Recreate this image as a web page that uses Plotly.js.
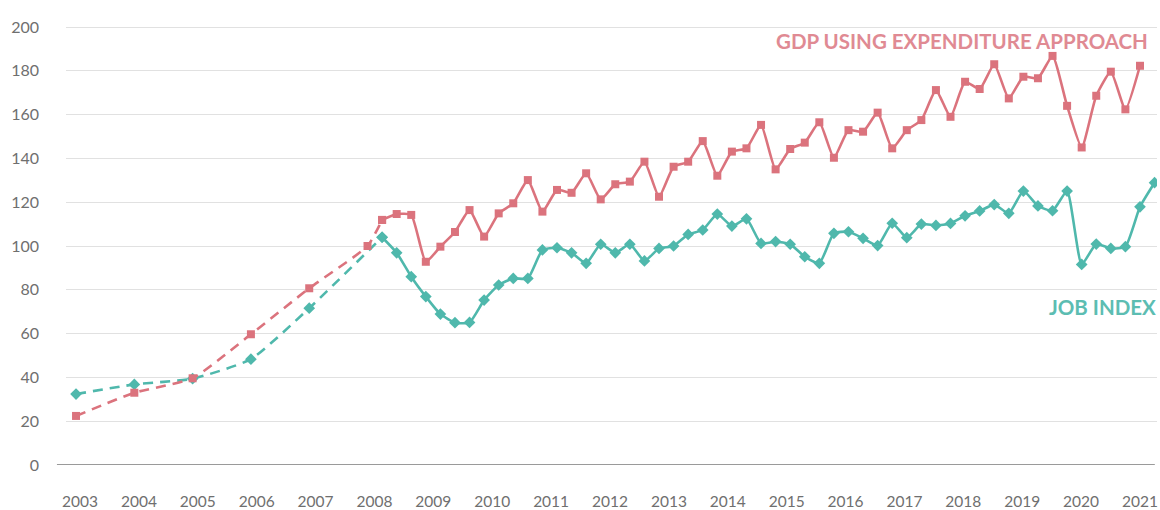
<!DOCTYPE html>
<html>
<head>
<meta charset="utf-8">
<script src="https://cdn.plot.ly/plotly-3.0.1.min.js"></script>
<style>html,body{margin:0;padding:0;background:#fff;}#chart{width:1160px;height:510px;}</style>
</head>
<body>
<div id="chart"></div>
<script>
// ---- data ----
const annualYears = [2003, 2004, 2005, 2006, 2007, 2008];
const gdpAnnual = [22.4, 33, 39.6, 59.7, 80.7, 100];
const jobAnnualYears = [2003, 2004, 2005, 2006, 2007];
const jobAnnual = [32.4, 36.8, 39.4, 48.3, 71.6];

const quarterStart = 2008.25; // first quarterly observation
const gdpQuarterly = [111.9,114.6,114.2,92.8,99.7,106.4,116.4,104.3,114.9,119.5,130.1,115.7,125.6,124.3,133.2,121.3,128.2,129.4,138.5,122.5,136.2,138.5,147.9,132.1,143.1,144.6,155.3,135,144.3,147.2,156.5,140.3,152.9,152.2,160.9,144.6,152.9,157.5,171.2,159,175,171.7,183,167.4,177.3,176.6,186.8,164,145,168.6,179.6,162.4,182.3];
const jobQuarterly = [104,96.9,86,76.9,68.9,65,65.1,75.3,82.2,85.2,85.2,98.2,99.2,96.9,92.1,100.8,96.9,100.8,93.2,98.9,100,105.3,107.3,114.6,109.1,112.4,101.2,102,100.8,95.1,92.1,105.8,106.5,103.5,100.2,110.4,103.8,110,109.4,110.3,113.8,116,118.9,114.9,125.1,118.3,116.1,125.1,91.6,100.9,98.9,99.7,117.9,128.9];

const tickYears = [2003,2004,2005,2006,2007,2008,2009,2010,2011,2012,2013,2014,2015,2016,2017,2018,2019,2020,2021];
const yTicks = [0,20,40,60,80,100,120,140,160,180,200];

const gdpLabel = 'GDP USING EXPENDITURE APPROACH';
const jobLabel = 'JOB INDEX';

// ---- build ----
const quarterX = arr => arr.map((_, i) => quarterStart + i * 0.25);
const gdpQx = quarterX(gdpQuarterly);
const jobQx = quarterX(jobQuarterly);

const GDP = '#db737d';
const JOB = '#4fb8ac';
const FONT = 'Lato, "Open Sans", sans-serif';

const smooth = 0.5;
const traces = [
  // carrier for the year label axis (draws nothing)
  { x: tickYears, y: tickYears.map(() => null), xaxis: 'x2', yaxis: 'y',
    type: 'scatter', mode: 'markers', marker: {opacity: 0}, hoverinfo: 'skip' },
  { x: jobAnnualYears.concat([jobQx[0]]), y: jobAnnual.concat([jobQuarterly[0]]),
    mode: 'lines+markers', type: 'scatter',
    line: {color: JOB, width: 2.6, dash: '10px,7px', shape: 'spline', smoothing: smooth},
    marker: {symbol: 'diamond', size: 9, color: JOB}, hoverinfo: 'skip' },
  { x: jobQx, y: jobQuarterly, mode: 'lines+markers', type: 'scatter',
    line: {color: JOB, width: 2.6, shape: 'spline', smoothing: smooth},
    marker: {symbol: 'diamond', size: 9, color: JOB}, hoverinfo: 'skip' },
  { x: annualYears.concat([gdpQx[0]]), y: gdpAnnual.concat([gdpQuarterly[0]]),
    mode: 'lines+markers', type: 'scatter',
    line: {color: GDP, width: 2.6, dash: '10px,7px', shape: 'spline', smoothing: smooth},
    marker: {symbol: 'square', size: 8, color: GDP}, hoverinfo: 'skip' },
  { x: gdpQx, y: gdpQuarterly, mode: 'lines+markers', type: 'scatter',
    line: {color: GDP, width: 2.6, shape: 'spline', smoothing: smooth},
    marker: {symbol: 'square', size: 8, color: GDP}, hoverinfo: 'skip' }
];

const layout = {
  width: 1160, height: 510,
  margin: {l: 66, r: 3, t: 20, b: 45},
  paper_bgcolor: '#fff', plot_bgcolor: '#fff',
  showlegend: false,
  font: {family: FONT, color: '#6f6f6f', size: 16},
  xaxis: {
    range: [2002.828, 2021.542], showgrid: false, zeroline: false,
    showticklabels: false, ticks: '', showline: false, fixedrange: true
  },
  xaxis2: {
    overlaying: 'x', anchor: 'y', side: 'bottom',
    range: [2002.762, 2021.289], showgrid: false, zeroline: false, showline: false,
    tickmode: 'array', tickvals: tickYears, ticktext: tickYears.map(String),
    ticks: '', ticklabelstandoff: 25, ticklabeloverflow: 'allow',
    tickfont: {family: FONT, size: 15.5, color: '#6f6f6f'}
  },
  yaxis: {
    range: [0, 203.2], tickmode: 'array', tickvals: yTicks, ticktext: yTicks.map(String),
    showgrid: true, gridcolor: '#e1e1e1', gridwidth: 1, zeroline: false, showline: false,
    ticks: '', ticklabelstandoff: 26,
    tickfont: {family: FONT, size: 16, color: '#6f6f6f'}, fixedrange: true
  },
  shapes: [
    { type: 'line', xref: 'paper', yref: 'y', x0: -0.0083, x1: 0.998, y0: 0, y1: 0,
      line: {color: '#9a9a9a', width: 2}, layer: 'below' }
  ],
  annotations: [
    { text: gdpLabel, xref: 'paper', yref: 'paper', x: 0.9936, y: 0.9528,
      xanchor: 'right', yanchor: 'middle', showarrow: false,
      font: {family: FONT, size: 20.5, color: '#e08a93', weight: 'bold'} },
    { text: jobLabel, xref: 'paper', yref: 'paper', x: 1.001, y: 0.355,
      xanchor: 'right', yanchor: 'middle', showarrow: false,
      font: {family: FONT, size: 20.5, color: '#5cbdb2', weight: 'bold'} }
  ]
};

Plotly.newPlot('chart', traces, layout, {staticPlot: true, displayModeBar: false});
</script>
</body>
</html>
